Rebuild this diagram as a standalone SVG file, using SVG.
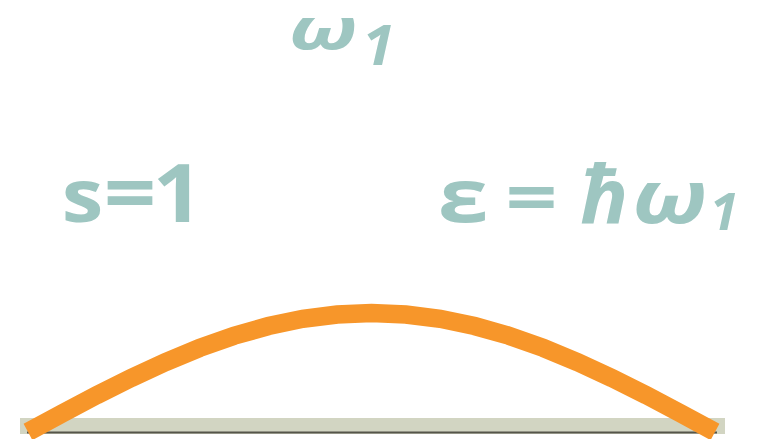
<svg xmlns="http://www.w3.org/2000/svg" width="772" height="439" viewBox="0 0 772 439">
<style>
text{fill:#9ec6c1;font-family:"Open Sans","DejaVu Sans",sans-serif;font-weight:bold;text-anchor:middle}
.i{font-style:italic}
</style>
<rect width="772" height="439" fill="#ffffff"/>
<g id="label-omega1">
<text class="i" font-size="58" transform="translate(323.5,49) scale(1.45,1)">ω</text>
<text class="i" font-size="56" transform="translate(378.5,65) scale(1.05,1)">1</text>
</g>
<g id="label-s1">
<text font-size="74" transform="translate(82.5,222) scale(1.13,1)">s</text>
<text font-size="80" transform="translate(130,222) scale(1.15,1)">=</text>
<text font-size="80" transform="translate(178,222) scale(1.1,1)">1</text>
</g>
<g id="label-energy">
<text font-size="73" transform="translate(463,222) scale(1.25,1)">ε</text>
<text font-size="70" transform="translate(531.5,222) scale(1.3,1)">=</text>
<text class="i" font-size="80" transform="translate(604.5,223)">ħ</text>
<text class="i" font-size="74" transform="translate(670,223) scale(1.24,1)">ω</text>
<text class="i" font-size="52" transform="translate(724,230)">1</text>
</g>
<g id="string">
<rect x="20" y="418" width="705" height="16" fill="#d2d5c2"/>
<line x1="27" y1="432.5" x2="717" y2="432.5" stroke="#55554a" stroke-width="2"/>
</g>
<g id="connectors">
<polyline fill="none" stroke="#f7962a" stroke-width="18.5" points="28,432 62.35,413.4 96.7,395.2 131.05,378 165.4,362.1 199.75,347.9 234.1,335.7 268.45,326 302.8,318.8 337.15,314.5 371.5,313 405.85,314.5 440.2,318.8 474.55,326 508.9,335.7 543.25,347.9 577.6,362.1 611.95,378 646.3,395.2 680.65,413.4 715,432"/>
</g>
</svg>
